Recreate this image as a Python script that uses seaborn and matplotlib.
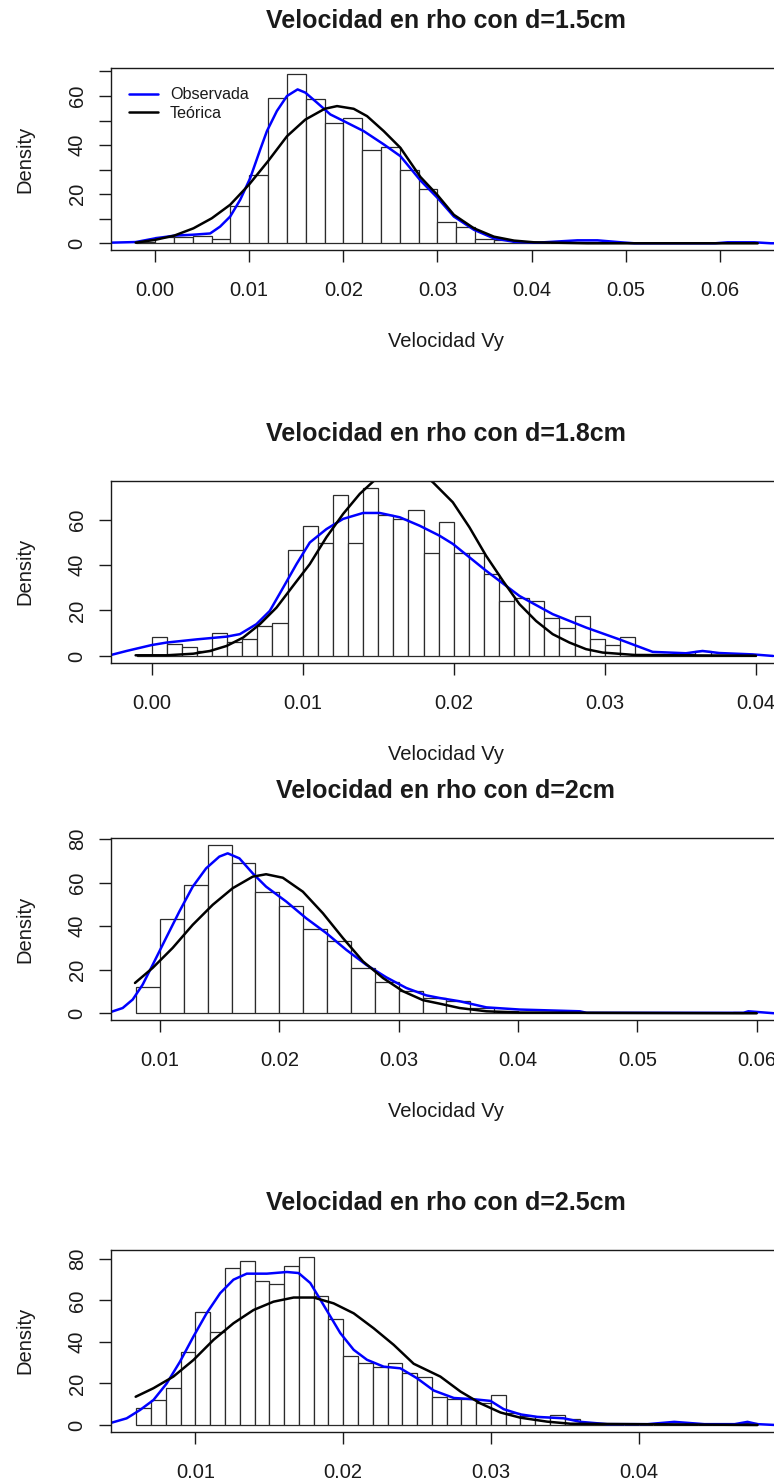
"""Velocidad Vy en rho: histogramas con densidad observada y teorica."""

import matplotlib

matplotlib.use("Agg")
import matplotlib.pyplot as plt
import numpy as np
import pandas as pd
import seaborn as sns
from matplotlib.lines import Line2D

# ---------------------------------------------------------------- data
TITLES = [
    "Velocidad en rho con d=1.5cm",
    "Velocidad en rho con d=1.8cm",
    "Velocidad en rho con d=2cm",
    "Velocidad en rho con d=2.5cm",
]
LEGEND_LABELS = ["Observada", "Teórica"]
X_LABEL = "Velocidad Vy"
Y_LABEL = "Density"

# histogram bins: first edge, bin width, density of each bin
BIN_START = [-0.002, -0.001, 0.008, 0.006]
BIN_WIDTH = [0.002, 0.001, 0.002, 0.001]

HEIGHTS_15 = [0.7, 2.7, 2.6, 2.9, 1.8, 15.3, 28.0, 59.2, 68.9, 58.7, 49.1,
              51.2, 38.2, 39.1, 30.0, 22.1, 8.6, 6.5, 1.8, 1.4, 0.6, 0.0,
              0.0, 0.5, 0.5, 0.0, 0.0, 0.0, 0.0, 0.0, 0.0, 0.0, 0.3]
HEIGHTS_18 = [0.5, 8.5, 5.4, 4.0, 2.0, 10.0, 6.3, 7.3, 13.2, 14.7, 46.8,
              57.0, 49.7, 70.9, 49.7, 74.0, 61.8, 60.3, 64.4, 45.1, 58.8,
              45.1, 45.1, 36.0, 24.0, 25.7, 24.0, 16.6, 12.1, 17.6, 7.3,
              5.0, 8.5, 1.0, 1.0, 0.5, 1.0, 2.0, 0.5, 0.5, 0.5]
HEIGHTS_20 = [11.9, 43.2, 58.9, 77.2, 68.8, 55.8, 49.4, 38.6, 33.3, 20.8,
              14.4, 10.1, 7.0, 5.5, 2.5, 1.2, 0.8, 0.5, 0.0, 0.0, 0.0, 0.0,
              0.0, 0.0, 0.0, 0.5]
HEIGHTS_25 = [8.0, 12.0, 17.7, 35.0, 54.6, 45.0, 75.5, 79.2, 69.5, 68.0,
              76.6, 81.1, 62.2, 50.9, 33.4, 29.7, 28.1, 29.7, 24.9, 23.3,
              13.3, 12.4, 12.4, 10.8, 14.5, 5.9, 4.3, 3.7, 4.8, 2.9, 1.0,
              0.5, 0.0, 0.0, 0.0, 0.0, 0.7, 0.0, 0.0, 0.0, 0.0, 1.0]

OBS_X_15 = [-0.00468, -0.00206, 0.0, 0.00202, 0.00408, 0.00585, 0.00691,
            0.00798, 0.00904, 0.01011, 0.01117, 0.01188, 0.01294, 0.01401,
            0.01514, 0.01596, 0.0172, 0.01862, 0.02004, 0.02216, 0.02429,
            0.02606, 0.02819, 0.03000, 0.03174, 0.03387, 0.03599, 0.03812,
            0.0406, 0.04486, 0.04699, 0.04947, 0.0509, 0.0595, 0.06082,
            0.06365, 0.0654, 0.0670]
OBS_Y_15 = [0.25, 0.5, 2.0, 3.1, 3.5, 4.0, 6.8, 10.9, 17.7, 26.6, 38.2,
            45.7, 53.9, 60.0, 62.7, 61.4, 57.3, 52.5, 49.8, 45.7, 40.3,
            35.5, 25.6, 18.5, 10.9, 5.5, 2.0, 0.6, 0.25, 1.2, 1.2, 0.4,
            0.0, 0.0, 0.4, 0.4, 0.0, 0.0]
OBS_X_18 = [-0.00269, -0.00166, 0.0, 0.00099, 0.00298, 0.00496, 0.00584,
            0.00694, 0.00782, 0.00871, 0.00959, 0.01047, 0.01157, 0.01268,
            0.014, 0.0151, 0.01643, 0.01774, 0.01906, 0.01994, 0.02214,
            0.02435, 0.02655, 0.02876, 0.03096, 0.03317, 0.03537, 0.03647,
            0.03757, 0.03978, 0.04115]
OBS_Y_18 = [0.44, 2.2, 4.8, 5.9, 7.3, 8.5, 9.6, 14.0, 19.8, 30.1, 40.4,
            49.9, 55.8, 60.3, 62.9, 62.9, 61.0, 57.3, 52.9, 49.3, 37.5,
            26.4, 18.4, 12.5, 7.3, 1.8, 1.2, 2.2, 1.3, 0.7, 0.0]
OBS_X_20 = [0.00589, 0.00687, 0.00771, 0.00854, 0.00938, 0.0105, 0.01162,
            0.01274, 0.01386, 0.01497, 0.01567, 0.01665, 0.01777, 0.01889,
            0.02057, 0.02225, 0.02393, 0.02561, 0.02729, 0.02896, 0.03064,
            0.03232, 0.03344, 0.03511, 0.03735, 0.04015, 0.04518, 0.04575,
            0.0589, 0.0593, 0.06145]
OBS_Y_20 = [0.6, 2.4, 6.3, 13.1, 22.2, 34.5, 46.7, 58.1, 66.5, 71.9, 73.4,
            71.1, 64.2, 58.1, 51.3, 43.6, 36.8, 29.1, 22.2, 16.5, 11.6,
            8.2, 7.0, 5.5, 2.7, 1.7, 0.9, 0.2, 0.2, 0.9, 0.0]
OBS_X_25 = [0.00432, 0.00534, 0.00624, 0.00715, 0.00805, 0.00895, 0.00986,
            0.01076, 0.01167, 0.01257, 0.01347, 0.01483, 0.01619, 0.01698,
            0.01777, 0.01845, 0.01913, 0.0198, 0.02071, 0.02161, 0.02274,
            0.02387, 0.025, 0.02613, 0.02749, 0.02884, 0.02997, 0.03087,
            0.032, 0.03314, 0.03494, 0.03607, 0.03788, 0.0406, 0.04241,
            0.04445, 0.04650, 0.04737, 0.04805, 0.04923]
OBS_Y_25 = [1.1, 3.2, 7.2, 12.0, 20.0, 30.5, 42.6, 53.9, 63.5, 70.0, 72.9,
            72.9, 73.7, 73.2, 68.4, 60.4, 52.3, 44.3, 36.2, 31.4, 28.1,
            27.3, 22.5, 16.6, 13.0, 12.4, 11.6, 7.6, 5.1, 3.9, 3.2, 1.5,
            0.4, 0.4, 1.5, 0.4, 0.4, 1.5, 0.4, 0.0]

# theoretical density (the d=1.8 curve leaves the box)
TEO_X_15 = [-0.00206, 0.0, 0.00202, 0.00408, 0.00603, 0.00798, 0.00998,
            0.01199, 0.01401, 0.01596, 0.01802, 0.01933, 0.0211, 0.02252,
            0.02429, 0.02606, 0.02819, 0.02996, 0.03174, 0.03387, 0.03599,
            0.03812, 0.04025, 0.0459, 0.06401]
TEO_Y_15 = [0.25, 1.4, 3.1, 6.1, 10.2, 15.7, 23.9, 33.4, 43.6, 50.4, 54.8,
            55.9, 54.8, 51.8, 45.7, 38.9, 27.0, 19.8, 11.6, 6.1, 2.7, 1.1,
            0.4, 0.0, 0.0]
TEO_X_18 = [-0.00106, 0.00099, 0.00276, 0.00386, 0.00496, 0.00606, 0.00717,
            0.00827, 0.00937, 0.01047, 0.01157, 0.01268, 0.01378, 0.01466,
            0.0155, 0.0166, 0.0178, 0.01862, 0.01994, 0.02104, 0.02214,
            0.02325, 0.02435, 0.02545, 0.02655, 0.02766, 0.02876, 0.02986,
            0.03207, 0.04]
TEO_Y_18 = [0.3, 0.3, 1.0, 2.2, 4.4, 8.1, 14.0, 21.3, 30.9, 40.4, 52.2,
            62.5, 71.3, 76.7, 81.0, 82.5, 81.0, 76.4, 67.6, 56.6, 44.1,
            33.1, 22.8, 15.4, 9.6, 5.9, 3.0, 1.5, 0.4, 0.1]
TEO_X_20 = [0.0079, 0.00938, 0.01106, 0.01274, 0.01442, 0.01609, 0.01777,
            0.01889, 0.02029, 0.02197, 0.02365, 0.02533, 0.02701, 0.02868,
            0.03036, 0.03204, 0.03344, 0.03511, 0.03735, 0.04015, 0.06]
TEO_Y_20 = [13.9, 20.8, 30.0, 40.6, 49.8, 57.4, 62.7, 63.8, 62.2, 55.8,
            45.9, 34.5, 23.8, 16.2, 10.1, 6.0, 4.4, 2.4, 0.9, 0.3, 0.0]
TEO_X_25 = [0.00595, 0.00715, 0.0085, 0.00986, 0.01122, 0.01257, 0.01393,
            0.01528, 0.01664, 0.018, 0.01935, 0.02071, 0.02206, 0.02342,
            0.02477, 0.02658, 0.02794, 0.02929, 0.03065, 0.032, 0.03381,
            0.03539, 0.04805]
TEO_Y_25 = [13.6, 17.7, 23.3, 31.3, 41.0, 49.0, 55.4, 59.4, 61.4, 61.4,
            58.6, 53.8, 46.6, 38.6, 29.5, 23.3, 16.1, 10.4, 6.0, 3.5, 1.6,
            0.6, 0.0]

X_TICKS = [
    [0.00, 0.01, 0.02, 0.03, 0.04, 0.05, 0.06],
    [0.00, 0.01, 0.02, 0.03, 0.04],
    [0.01, 0.02, 0.03, 0.04, 0.05, 0.06],
    [0.01, 0.02, 0.03, 0.04],
]
Y_TICKS = [
    [0, 10, 20, 30, 40, 50, 60, 70],
    [0, 20, 40, 60],
    [0, 20, 40, 60, 80],
    [0, 20, 40, 60, 80],
]
Y_TICK_LABELS = [
    ["0", "", "20", "", "40", "", "60", ""],
    ["0", "20", "40", "60"],
    ["0", "20", "40", "60", "80"],
    ["0", "20", "40", "60", "80"],
]
X_LIMITS = [(-0.00468, 0.06638), (-0.00269, 0.0416), (0.00589, 0.06196),
            (0.00428, 0.04957)]
Y_LIMITS = [(-2.74, 71.3), (-2.96, 76.96), (-3.1, 80.3), (-3.24, 84.3)]

HEIGHTS = [HEIGHTS_15, HEIGHTS_18, HEIGHTS_20, HEIGHTS_25]
OBS = [(OBS_X_15, OBS_Y_15), (OBS_X_18, OBS_Y_18), (OBS_X_20, OBS_Y_20),
       (OBS_X_25, OBS_Y_25)]
TEO = [(TEO_X_15, TEO_Y_15), (TEO_X_18, TEO_Y_18), (TEO_X_20, TEO_Y_20),
       (TEO_X_25, TEO_Y_25)]

# ---------------------------------------------------------------- layout
W, H = 774, 1484
# plot boxes in pixels: left, top, right, bottom (right edge runs off the image)
BOXES = [(111, 68.3, 780, 250), (111, 481, 780, 662.7),
         (111, 838.3, 780, 1020), (111, 1250, 780, 1431.7)]
INK = "#1a1a1a"
BLUE = "#0000ff"

sns.set_theme(style="ticks")
plt.rcParams["font.family"] = ["Liberation Sans", "DejaVu Sans"]
plt.rcParams.update({
    "axes.edgecolor": INK,
    "axes.linewidth": 1.0,
    "xtick.color": INK,
    "ytick.color": INK,
    "text.color": INK,
    "axes.labelcolor": INK,
})


def draw_panel(ax, i):
    n = len(HEIGHTS[i])
    edges = BIN_START[i] + BIN_WIDTH[i] * np.arange(n + 1)
    bars = pd.DataFrame({
        "vy": (edges[:-1] + edges[1:]) / 2,
        "density": HEIGHTS[i],
    })
    sns.histplot(data=bars, x="vy", weights="density", bins=list(edges),
                 stat="count", color="white", edgecolor="#2b2b2b",
                 linewidth=0.9, alpha=1, ax=ax)
    sns.lineplot(x=OBS[i][0], y=OBS[i][1], color=BLUE, linewidth=1.8,
                 estimator=None, sort=False, ax=ax)
    sns.lineplot(x=TEO[i][0], y=TEO[i][1], color="black", linewidth=1.8,
                 estimator=None, sort=False, ax=ax)

    ax.set_xlim(*X_LIMITS[i])
    ax.set_ylim(*Y_LIMITS[i])
    ax.set_xticks(X_TICKS[i])
    ax.set_xticklabels([f"{v:.2f}" for v in X_TICKS[i]])
    ax.set_yticks(Y_TICKS[i])
    ax.set_yticklabels(Y_TICK_LABELS[i])
    ax.tick_params(axis="both", direction="out", length=8.5, width=1,
                   labelsize=14.5, colors=INK)
    ax.tick_params(axis="x", pad=14)
    ax.tick_params(axis="y", pad=9, labelrotation=90)
    for lab in ax.get_yticklabels():
        lab.set_va("center")
    ax.set_title(TITLES[i], fontsize=18, fontweight="bold", pad=29)
    # the last panel's axis title falls below the cropped picture
    ax.set_xlabel(X_LABEL if i < 3 else "", fontsize=14.5, labelpad=23)
    ax.set_ylabel(Y_LABEL, fontsize=14.5, labelpad=24)
    for side in ax.spines.values():
        side.set_visible(True)
        side.set_color(INK)


fig = plt.figure(figsize=(W / 100, H / 100), dpi=100)
for i, (l, t, r, b) in enumerate(BOXES):
    ax = fig.add_axes([l / W, 1 - b / H, (r - l) / W, (b - t) / H])
    draw_panel(ax, i)
    if i == 0:
        handles = [Line2D([], [], color=BLUE, lw=1.8),
                   Line2D([], [], color="black", lw=1.8)]
        ax.legend(handles, LEGEND_LABELS, loc="upper left", frameon=False,
                  fontsize=11.6, handlelength=1.8, handletextpad=0.7,
                  labelspacing=0.2, borderaxespad=0.0,
                  bbox_to_anchor=(0.018, 0.93))

fig.savefig("out.png", dpi=100)
